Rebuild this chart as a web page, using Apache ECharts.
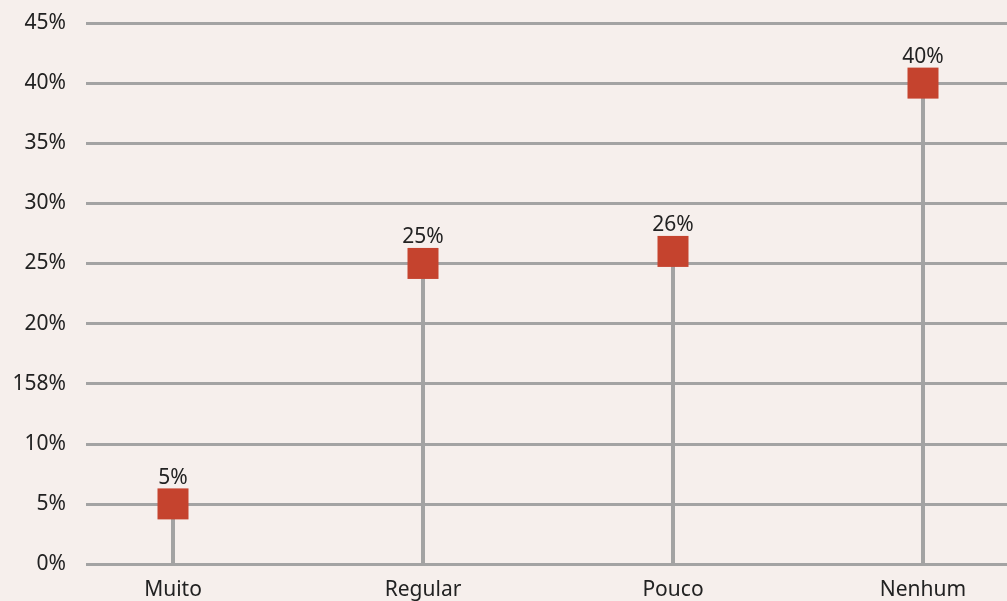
<!DOCTYPE html>
<html>
<head>
<meta charset="utf-8">
<script src="https://cdn.jsdelivr.net/npm/echarts@6/dist/echarts.min.js"></script>
<style>
html,body{margin:0;padding:0;background:#f6efec;}
#c{width:1007px;height:601px;}
</style>
</head>
<body>
<div id="c"></div>
<script>
const categories = ['Muito', 'Regular', 'Pouco', 'Nenhum'];
const values = [5, 25, 26, 40];
const valueLabels = ['5%', '25%', '26%', '40%'];
const tickValues = [0, 5, 10, 15, 20, 25, 30, 35, 40, 45];
const tickLabels = ['0%', '5%', '10%', '158%', '20%', '25%', '30%', '35%', '40%', '45%'];

const points = values.map(function (v, i) { return [i, v]; });

const chart = echarts.init(document.getElementById('c'));
const font = '"Noto Sans", sans-serif';
chart.setOption({
  backgroundColor: '#f6efec',
  animation: false,
  grid: {left: 86, right: 0, top: 23, bottom: 37},
  xAxis: {
    type: 'value', min: -0.348, max: 3.336,
    axisLine: {show: false}, axisTick: {show: false}, splitLine: {show: false},
    axisLabel: {customValues: [0, 1, 2, 3], color: '#222', fontSize: 21, fontFamily: font, margin: 16,
      formatter: function (v) { return categories[Math.round(v)] || ''; }}
  },
  yAxis: {
    type: 'value', min: 0, max: 45, interval: 5,
    axisLine: {show: false}, axisTick: {show: false},
    splitLine: {lineStyle: {color: '#a3a3a3', width: 3}},
    axisLabel: {color: '#222', fontSize: 21, fontFamily: font, margin: 20,
      formatter: function (v) { const i = tickValues.indexOf(v); return i >= 0 ? tickLabels[i] : ''; }}
  },
  series: [
    {type: 'custom', data: points, silent: true, z: 2,
     renderItem: function (params, api) {
       const top = api.coord([api.value(0), api.value(1)]);
       const bottom = api.coord([api.value(0), 0]);
       return {type: 'line', shape: {x1: top[0], y1: top[1], x2: bottom[0], y2: bottom[1]},
               style: {stroke: '#a3a3a3', lineWidth: 4}};
     }},
    {type: 'scatter', data: points, symbol: 'rect', symbolSize: 31, z: 3,
     itemStyle: {color: '#c5432e', opacity: 1},
     label: {show: true, position: 'top', distance: 0, color: '#222', fontSize: 21, fontFamily: font,
       formatter: function (p) { return valueLabels[p.dataIndex]; }}}
  ]
});
</script>
</body>
</html>
